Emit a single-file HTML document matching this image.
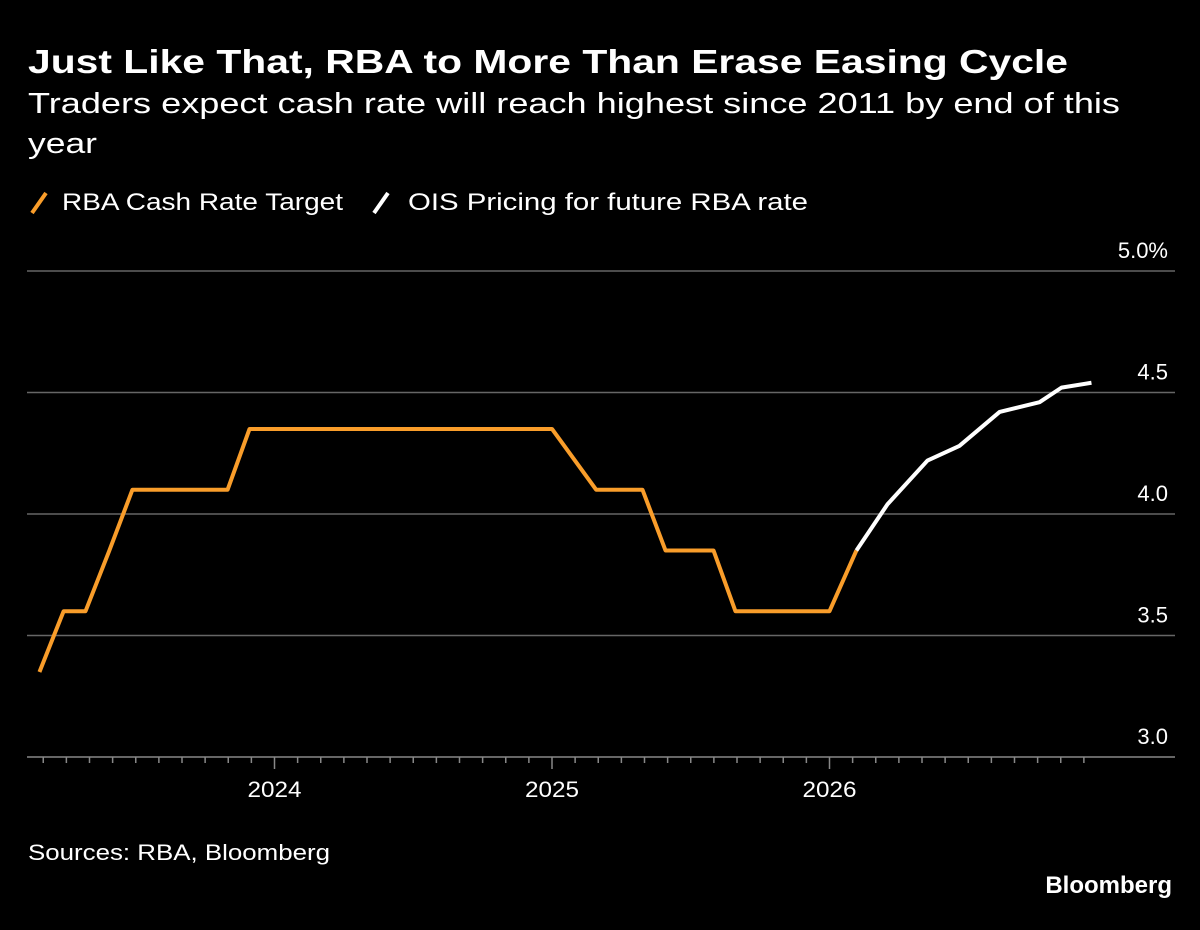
<!DOCTYPE html>
<html><head><meta charset="utf-8"><style>
body{margin:0;background:#000;width:1200px;height:925px;overflow:hidden;font-family:"Liberation Sans",sans-serif;color:#fff}
</style></head><body>
<svg width="1200" height="925">
<text x="28" y="73" font-size="33" font-weight="bold" fill="#fff" textLength="1040" lengthAdjust="spacingAndGlyphs">Just Like That, RBA to More Than Erase Easing Cycle</text>
<text x="28" y="113" font-size="29" fill="#fff" textLength="1092" lengthAdjust="spacingAndGlyphs">Traders expect cash rate will reach highest since 2011 by end of this</text>
<text x="28" y="153" font-size="29" fill="#fff" textLength="69" lengthAdjust="spacingAndGlyphs">year</text>
<g><line x1="32" y1="213" x2="46" y2="193" stroke="#f99d2a" stroke-width="4"/><text x="62" y="210" font-size="24" fill="#fff" textLength="281" lengthAdjust="spacingAndGlyphs">RBA Cash Rate Target</text></g>
<g><line x1="374" y1="213" x2="388" y2="193" stroke="#fff" stroke-width="4"/><text x="408" y="210" font-size="24" fill="#fff" textLength="400" lengthAdjust="spacingAndGlyphs">OIS Pricing for future RBA rate</text></g>
<g id="grid"></g><g id="xaxis"></g><g id="series"></g>
<text x="28" y="860" font-size="22" fill="#fff" textLength="302" lengthAdjust="spacingAndGlyphs">Sources: RBA, Bloomberg</text>
<text x="1172" y="893" font-size="24" font-weight="bold" fill="#fff" text-anchor="end">Bloomberg</text>
</svg>
<script>
const yTicks=[3.0,3.5,4.0,4.5,5.0];
const yearLabels=[2024,2025,2026];
const rbaDates=[2023.153,2023.240,2023.319,2023.405,2023.488,2023.831,2023.910,2025.0,2025.159,2025.326,2025.409,2025.582,2025.661,2026.0,2026.097];
const rbaValues=[3.35,3.6,3.6,3.85,4.1,4.1,4.35,4.35,4.1,4.1,3.85,3.85,3.6,3.6,3.85];
const oisDates=[2026.097,2026.209,2026.353,2026.468,2026.613,2026.757,2026.836,2026.944];
const oisValues=[3.85,4.04,4.22,4.28,4.42,4.46,4.52,4.54];
const NS="http://www.w3.org/2000/svg";
const x=t=>274.5+(t-2024)*277.5;
const y=v=>757-(v-3)*243;
function mk(tag,attrs,parent){const e=document.createElementNS(NS,tag);for(const k in attrs)e.setAttribute(k,attrs[k]);parent.appendChild(e);return e;}
const grid=document.getElementById('grid');
yTicks.forEach(v=>{
  if(v>3){const l=mk('line',{x1:27,x2:1175,y1:y(v),y2:y(v),stroke:'#666','stroke-width':1.5},grid);
  
  }
  const t=mk('text',{x:1168,y:y(v)-13,'font-size':22,fill:'#fff','text-anchor':'end'},grid);
  t.textContent=v.toFixed(1)+(v===5?'%':'');
  
  
});
const xa=document.getElementById('xaxis');
const ax=mk('line',{x1:27,x2:1175,y1:757,y2:757,stroke:'#888','stroke-width':1.5},xa);


for(let m=2;m<48;m++){const t=2023+m/12;const yr=m%12===0;
  const tk=mk('line',{x1:x(t),x2:x(t),y1:757,y2:757+(yr?12:6),stroke:'#888','stroke-width':1.5},xa);
  
  }
yearLabels.forEach(yr=>{const t=mk('text',{x:x(yr),y:797,'font-size':22,fill:'#fff','text-anchor':'middle',textLength:54,lengthAdjust:'spacingAndGlyphs'},xa);t.textContent=yr;
  
  });
const s=document.getElementById('series');
function line(d,v,c,name){const p=mk('polyline',{points:d.map((t,i)=>x(t)+','+y(v[i])).join(' '),fill:'none',stroke:c,'stroke-width':4,'stroke-linejoin':'round'},s);
  
  }
line(rbaDates,rbaValues,'#f99d2a','rba-cash-rate-line');
line(oisDates,oisValues,'#fff','ois-pricing-line');
</script>
</body></html>
